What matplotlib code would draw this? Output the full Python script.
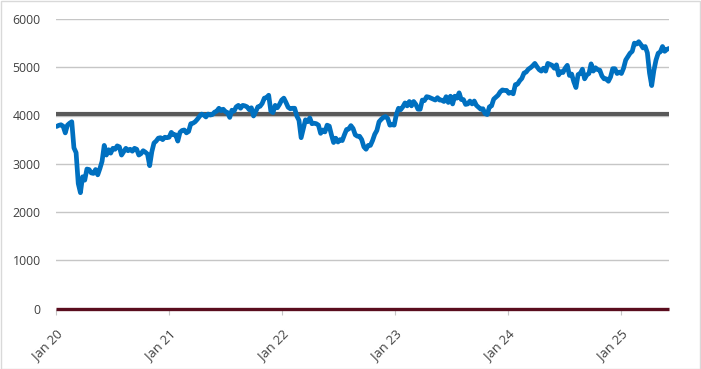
import matplotlib
matplotlib.use("Agg")
import matplotlib.pyplot as plt
import pandas as pd
from matplotlib.patches import Rectangle

# weekly closing values (Fridays), Jan 2020 - Jun 2025
v2020 = [3773, 3796, 3808, 3779, 3640,
         3800, 3840, 3870, 3330,
         3230, 2590, 2400, 2730,
         2660, 2890, 2880, 2810,
         2800, 2880, 2770, 2900, 3050,
         3380, 3180, 3290, 3220,
         3320, 3300, 3370, 3350, 3180,
         3250, 3320, 3270, 3300,
         3260, 3320, 3300, 3180,
         3210, 3270, 3240, 3200, 2960,
         3250, 3430, 3470, 3530,
         3540, 3500, 3550, 3540]
v2021 = [3550, 3650, 3600, 3600, 3470,
         3650, 3690, 3700, 3640,
         3670, 3830, 3840, 3870,
         3920, 3980, 4030, 4010, 3970,
         4030, 4010, 4020, 4070,
         4090, 4150, 4100, 4130,
         4080, 4060, 3960, 4110, 4090,
         4180, 4210, 4150, 4210,
         4200, 4180, 4120, 4160,
         3990, 4080, 4180, 4190, 4250,
         4360, 4370, 4420, 4090,
         4060, 4210, 4160, 4230, 4320]
v2022 = [4360, 4270, 4170, 4140,
         4150, 4150, 3990, 3900,
         3540, 3730, 3910, 3870,
         3950, 3830, 3840, 3830, 3800,
         3630, 3700, 3660, 3800,
         3780, 3600, 3440, 3530,
         3450, 3500, 3480, 3600, 3710,
         3720, 3790, 3730, 3600,
         3570, 3570, 3500, 3350, 3300,
         3380, 3380, 3480, 3610,
         3690, 3870, 3920, 3960,
         3980, 3940, 3800, 3810, 3800]
v2023 = [4020, 4150, 4120, 4180,
         4260, 4200, 4290, 4200,
         4290, 4230, 4130, 4130, 4320,
         4310, 4390, 4380, 4360,
         4340, 4320, 4370, 4320,
         4320, 4290, 4390, 4270, 4400,
         4240, 4400, 4360, 4470,
         4330, 4330, 4230, 4240,
         4300, 4240, 4300, 4210, 4170,
         4130, 4140, 4040, 4020,
         4180, 4200, 4340, 4380,
         4420, 4490, 4530, 4520, 4520]
v2024 = [4460, 4480, 4450, 4640,
         4650, 4720, 4770, 4880,
         4900, 4960, 4990, 5030, 5080,
         5010, 4950, 4920, 4980,
         4920, 5080, 5060, 5040, 4980,
         5050, 4840, 4910, 4890,
         4980, 5040, 4830, 4860,
         4700, 4580, 4850, 4870, 4960,
         4760, 4840, 4870, 5070,
         4920, 4990, 4950, 4940,
         4820, 4760, 4760, 4710, 4800,
         4970, 4970, 4870, 4900]
v2025 = [4870, 4980, 5150, 5220, 5290,
         5330, 5500, 5480, 5530,
         5470, 5400, 5430, 5300,
         4880, 4620, 4930, 5150,
         5290, 5320, 5430, 5330, 5370,
         5390]
values = v2020 + v2021 + v2022 + v2023 + v2024 + v2025
reference_level = 4035
zero_level = 0
y_ticks = [0, 1000, 2000, 3000, 4000, 5000, 6000]
x_tick_years = [2020, 2021, 2022, 2023, 2024, 2025]

dates = pd.date_range("2020-01-03", periods=len(values), freq="W-FRI")

fig = plt.figure(figsize=(7.01, 3.69), dpi=100)
fig.patch.set_facecolor("white")
fig.patches.append(Rectangle((0.5 / 701, 0.5 / 369), 1 - 1.5 / 701, 1 - 1.5 / 369,
                             transform=fig.transFigure, fill=False,
                             edgecolor="#d9d9d9", linewidth=1))

left, right = 56 / 701, 669 / 701
bottom, top = (369 - 308.5) / 369, (369 - 19) / 369
ax = fig.add_axes([left, bottom, right - left, top - bottom])

x0 = pd.Timestamp("2020-01-01")
x1 = dates[-1]
ax.set_xlim(x0, x1)
ax.set_ylim(0, 6000)

for t in y_ticks[1:]:
    ax.axhline(t, color="#c6c6c6", linewidth=1.0, zorder=1)

ax.plot([x0, x1], [reference_level, reference_level], color="#595959", linewidth=3.0,
        solid_capstyle="butt", zorder=2)
ax.plot(dates, values, color="#0070C0", linewidth=3.4, solid_joinstyle="round",
        solid_capstyle="round", zorder=3)
ax.plot([x0, x1], [zero_level, zero_level], color="#5a0d1e", linewidth=2.4,
        solid_capstyle="butt", zorder=4, clip_on=False)

for s in ax.spines.values():
    s.set_visible(False)

ax.set_yticks(y_ticks)
ax.set_yticklabels([str(t) for t in y_ticks])
ax.tick_params(axis="y", length=0, pad=11, labelsize=8.8, labelcolor="#404040")

xt = [pd.Timestamp(f"{y}-01-01") for y in x_tick_years]
ax.set_xticks(xt)
ax.set_xticklabels([f"Jan {str(y)[2:]}" for y in x_tick_years])
ax.tick_params(axis="x", length=4, width=0.8, color="#c6c6c6", pad=10,
               labelsize=9.4, labelcolor="#404040")
for lab in ax.get_xticklabels():
    lab.set_rotation(45)
    lab.set_ha("right")
    lab.set_va("top")
    lab.set_rotation_mode("anchor")

for lab in ax.get_xticklabels() + ax.get_yticklabels():
    lab.set_fontfamily(["Open Sans", "DejaVu Sans"])

fig.savefig("out.png", dpi=100, facecolor="white")
